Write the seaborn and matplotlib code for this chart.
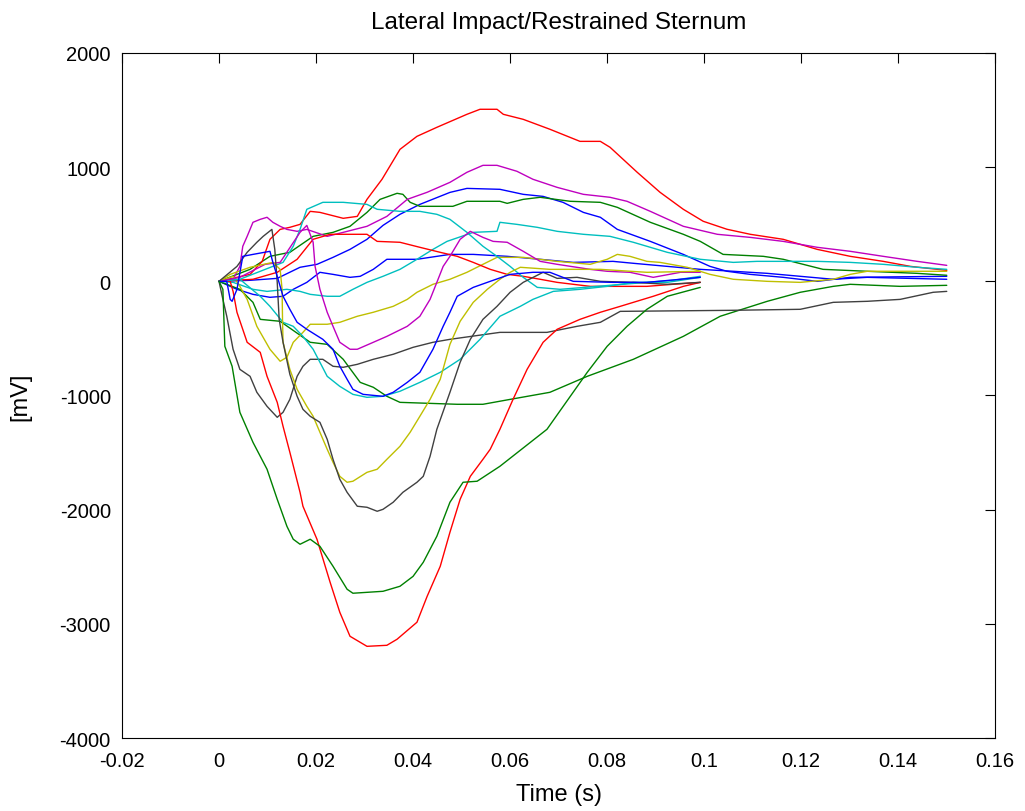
import numpy as np
import pandas as pd
import matplotlib
matplotlib.use("Agg")
import matplotlib.pyplot as plt
import seaborn as sns
from matplotlib.ticker import FuncFormatter, MultipleLocator

# ---------------- data (time in s, signal in mV) ----------------
# curves recorded to 0.15 s
t_red_top = [0, 0.0064, 0.0089, 0.0105, 0.0126, 0.0146, 0.0167, 0.0188, 0.0208, 0.0256, 0.0285, 0.0305, 0.0336, 0.0373, 0.0408, 0.0449, 0.0511, 0.0538, 0.0573, 0.0586, 0.0627, 0.0682, 0.0744, 0.0786, 0.0806, 0.0862, 0.0909, 0.0957, 0.0998, 0.1047, 0.1095, 0.1163, 0.1233, 0.1301, 0.1369, 0.1425, 0.15]
v_red_top = [0, 61, 175, 368, 455, 473, 499, 613, 604, 552, 569, 718, 894, 1156, 1270, 1349, 1463, 1507, 1507, 1463, 1419, 1332, 1226, 1226, 1174, 955, 780, 631, 526, 456, 412, 368, 280, 219, 175, 131, 96]

t_mag_top = [0, 0.0029, 0.0043, 0.0049, 0.0058, 0.0070, 0.0085, 0.0099, 0.0111, 0.0126, 0.0140, 0.0161, 0.0181, 0.0223, 0.0256, 0.0305, 0.0346, 0.0388, 0.0429, 0.0476, 0.0511, 0.0544, 0.0573, 0.0614, 0.0647, 0.0697, 0.0751, 0.0806, 0.0841, 0.0889, 0.0957, 0.1027, 0.1095, 0.1163, 0.1233, 0.1301, 0.1369, 0.1439, 0.15]
v_mag_top = [0, 18, 131, 307, 394, 517, 543, 561, 517, 482, 455, 438, 455, 394, 429, 482, 569, 718, 780, 867, 955, 1016, 1016, 964, 894, 823, 762, 736, 701, 613, 482, 412, 385, 350, 298, 263, 219, 175, 140]

t_green_up = [0, 0.0064, 0.0105, 0.0146, 0.0194, 0.0235, 0.0270, 0.0305, 0.0332, 0.0367, 0.0379, 0.0394, 0.0414, 0.0482, 0.0511, 0.0579, 0.0594, 0.0627, 0.0662, 0.0724, 0.0786, 0.0821, 0.0889, 0.0957, 0.0992, 0.1039, 0.1122, 0.1163, 0.1245, 0.1336, 0.1439, 0.15]
v_green_up = [0, 105, 219, 254, 394, 429, 482, 604, 718, 771, 762, 692, 657, 657, 701, 701, 683, 718, 736, 701, 692, 648, 517, 412, 350, 236, 219, 193, 105, 88, 70, 53]

t_green_low = [0, 0.0043, 0.0070, 0.0085, 0.0126, 0.0188, 0.0223, 0.0256, 0.0291, 0.0318, 0.0346, 0.0373, 0.0491, 0.0544, 0.0600, 0.0682, 0.0759, 0.0854, 0.0957, 0.1033, 0.1130, 0.1198, 0.1266, 0.1301, 0.1404, 0.15]
v_green_low = [0, -70, -184, -333, -350, -534, -552, -683, -885, -928, -1007, -1060, -1077, -1077, -1034, -972, -832, -683, -482, -306, -175, -96, -44, -26, -44, -35]

t_blue_top = [0, 0.0064, 0.0120, 0.0167, 0.0202, 0.0235, 0.0270, 0.0305, 0.0338, 0.0373, 0.0414, 0.0476, 0.0511, 0.0579, 0.0627, 0.0668, 0.0709, 0.0751, 0.0786, 0.0821, 0.0889, 0.0957, 0.1012, 0.1047, 0.1095, 0.1163, 0.1233, 0.1301, 0.15]
v_blue_top = [0, 9, 26, 123, 149, 210, 280, 368, 490, 587, 674, 779, 814, 806, 762, 744, 692, 604, 561, 455, 350, 236, 131, 88, 61, 35, 0, 35, 44]

t_blue_mid = [0, 0.0037, 0.0070, 0.0105, 0.0132, 0.0153, 0.0181, 0.0208, 0.0235, 0.0270, 0.0291, 0.0318, 0.0346, 0.0408, 0.0476, 0.0524, 0.0594, 0.0662, 0.0730, 0.0812, 0.0854, 0.0924, 0.0992, 0.1060, 0.1130, 0.1198, 0.1266, 0.1336, 0.15]
v_blue_mid = [0, -70, -114, -140, -131, -70, -9, 79, 61, 35, 44, 105, 193, 193, 236, 236, 219, 193, 166, 175, 158, 131, 105, 88, 70, 44, 18, 35, 18]

t_cyan_mid = [0, 0.0029, 0.0070, 0.0099, 0.0140, 0.0167, 0.0188, 0.0223, 0.0249, 0.0276, 0.0305, 0.0338, 0.0373, 0.0408, 0.0441, 0.0470, 0.0524, 0.0573, 0.0579, 0.0614, 0.0656, 0.0697, 0.0751, 0.0806, 0.0854, 0.0924, 0.0992, 0.1060, 0.1109, 0.1233, 0.1301, 0.1369, 0.1439, 0.15]
v_cyan_mid = [0, -9, -70, -88, -70, -88, -114, -131, -131, -70, -9, 44, 105, 193, 280, 350, 429, 438, 517, 499, 473, 438, 412, 394, 342, 254, 193, 166, 175, 175, 166, 149, 123, 105]

t_yel_low = [0, 0.0029, 0.0043, 0.0058, 0.0078, 0.0105, 0.0126, 0.0140, 0.0153, 0.0173, 0.0188, 0.0223, 0.0249, 0.0285, 0.0318, 0.0359, 0.0388, 0.0408, 0.0441, 0.0476, 0.0511, 0.0544, 0.0573, 0.0627, 0.0697, 0.0765, 0.0800, 0.0821, 0.0847, 0.0882, 0.0909, 0.0965, 0.1012, 0.1060, 0.1130, 0.1198, 0.1266, 0.1301, 0.1336, 0.15]
v_yel_low = [0, 44, -44, -158, -394, -595, -700, -665, -534, -447, -376, -376, -359, -306, -271, -219, -158, -96, -26, 18, 79, 149, 210, 210, 175, 149, 193, 236, 219, 175, 166, 123, 61, 18, 0, -9, 18, 61, 88, 88]

t_gray_low = [0, 0.0008, 0.0016, 0.0029, 0.0043, 0.0064, 0.0078, 0.0099, 0.0120, 0.0132, 0.0146, 0.0161, 0.0173, 0.0188, 0.0214, 0.0235, 0.0256, 0.0285, 0.0318, 0.0359, 0.0400, 0.0441, 0.0476, 0.0579, 0.0676, 0.0738, 0.0786, 0.0827, 0.1054, 0.1198, 0.1266, 0.1336, 0.1404, 0.1472, 0.15]
v_gray_low = [0, -158, -306, -595, -771, -832, -972, -1095, -1191, -1147, -1034, -832, -744, -683, -683, -744, -753, -727, -683, -639, -578, -534, -508, -447, -447, -394, -359, -263, -254, -245, -184, -175, -158, -96, -88]

# curves recorded to 0.10 s
t_red_mid = [0, 0.0070, 0.0120, 0.0161, 0.0194, 0.0229, 0.0305, 0.0326, 0.0373, 0.0414, 0.0456, 0.0491, 0.0524, 0.0559, 0.0594, 0.0627, 0.0662, 0.0697, 0.0765, 0.0812, 0.0882, 0.0936, 0.0992]
v_red_mid = [0, 18, 79, 193, 368, 412, 412, 350, 342, 298, 254, 219, 166, 105, 61, 44, 18, -9, -44, -44, -44, -26, -9]

t_red_low = [0, 0.0023, 0.0029, 0.0037, 0.0058, 0.0085, 0.0099, 0.0120, 0.0132, 0.0146, 0.0167, 0.0173, 0.0202, 0.0229, 0.0249, 0.0270, 0.0305, 0.0346, 0.0367, 0.0408, 0.0429, 0.0456, 0.0476, 0.0497, 0.0518, 0.0544, 0.0559, 0.0579, 0.0606, 0.0635, 0.0668, 0.0697, 0.0744, 0.0786, 0.0827, 0.0895, 0.0957, 0.0992]
v_red_low = [0, 0, -88, -271, -534, -622, -832, -1060, -1270, -1497, -1848, -1970, -2260, -2636, -2899, -3109, -3197, -3188, -3135, -2986, -2759, -2496, -2198, -1909, -1708, -1559, -1471, -1296, -1034, -771, -534, -420, -333, -271, -219, -131, -44, -9]

t_green_low2 = [0, 0.0008, 0.0012, 0.0027, 0.0043, 0.0070, 0.0099, 0.0120, 0.0140, 0.0153, 0.0167, 0.0188, 0.0208, 0.0235, 0.0264, 0.0276, 0.0338, 0.0373, 0.0400, 0.0421, 0.0449, 0.0476, 0.0503, 0.0532, 0.0579, 0.0676, 0.0759, 0.0800, 0.0841, 0.0882, 0.0924, 0.0992]
v_green_low2 = [0, -70, -569, -744, -1147, -1410, -1646, -1909, -2146, -2259, -2303, -2259, -2321, -2496, -2697, -2732, -2715, -2671, -2584, -2461, -2233, -1935, -1760, -1751, -1620, -1296, -797, -569, -394, -245, -131, -53]

t_mag_mid = [0, 0.0043, 0.0095, 0.0126, 0.0167, 0.0181, 0.0194, 0.0198, 0.0208, 0.0223, 0.0235, 0.0249, 0.0270, 0.0285, 0.0318, 0.0346, 0.0388, 0.0414, 0.0435, 0.0449, 0.0462, 0.0476, 0.0497, 0.0518, 0.0544, 0.0565, 0.0594, 0.0627, 0.0662, 0.0697, 0.0765, 0.0800, 0.0847, 0.0895, 0.0951, 0.0992]
v_mag_mid = [0, 35, 149, 166, 429, 490, 342, 131, -70, -271, -394, -534, -595, -595, -534, -482, -394, -306, -158, -9, 131, 219, 368, 438, 385, 350, 342, 263, 175, 149, 105, 88, 79, 35, 79, 79]

t_cyan_top = [0, 0.0043, 0.0132, 0.0153, 0.0167, 0.0181, 0.0214, 0.0256, 0.0305, 0.0326, 0.0373, 0.0414, 0.0449, 0.0476, 0.0511, 0.0544, 0.0573, 0.0600, 0.0627, 0.0656, 0.0703, 0.0779, 0.0882, 0.0936, 0.0992]
v_cyan_top = [0, 18, 166, 307, 455, 631, 692, 692, 674, 631, 613, 613, 587, 543, 429, 307, 219, 131, 35, -53, -70, -44, -9, 9, 44]

t_cyan_low = [0, 0.0043, 0.0085, 0.0105, 0.0132, 0.0153, 0.0173, 0.0194, 0.0208, 0.0223, 0.0249, 0.0276, 0.0305, 0.0338, 0.0373, 0.0414, 0.0456, 0.0497, 0.0538, 0.0579, 0.0621, 0.0647, 0.0689, 0.0744, 0.0800, 0.0854, 0.0924, 0.0992]
v_cyan_low = [0, 18, -131, -219, -359, -394, -482, -595, -709, -832, -920, -990, -1016, -1007, -963, -885, -797, -683, -508, -306, -219, -158, -88, -70, -44, -9, -9, 35]

t_blue_low = [0, 0.0016, 0.0023, 0.0027, 0.0037, 0.0049, 0.0070, 0.0105, 0.0111, 0.0120, 0.0132, 0.0146, 0.0161, 0.0181, 0.0214, 0.0235, 0.0249, 0.0264, 0.0276, 0.0297, 0.0338, 0.0359, 0.0388, 0.0414, 0.0441, 0.0462, 0.0476, 0.0491, 0.0524, 0.0559, 0.0600, 0.0647, 0.0682, 0.0730, 0.0812, 0.0882, 0.0951, 0.0992]
v_blue_low = [0, 0, -158, -175, -70, 219, 236, 263, 166, 44, -131, -245, -359, -420, -508, -595, -744, -858, -946, -990, -1007, -972, -885, -797, -595, -394, -271, -131, -53, 0, 61, 79, 79, 0, -9, -9, 18, 35]

t_yel_mid = [0, 0.0023, 0.0064, 0.0111, 0.0126, 0.0130, 0.0131, 0.0132, 0.0146, 0.0161, 0.0181, 0.0194, 0.0208, 0.0223, 0.0235, 0.0249, 0.0264, 0.0276, 0.0305, 0.0326, 0.0346, 0.0373, 0.0394, 0.0414, 0.0435, 0.0456, 0.0476, 0.0497, 0.0524, 0.0553, 0.0579, 0.0600, 0.0621, 0.0682, 0.0786, 0.0882, 0.0992]
v_yel_mid = [0, 61, 123, 166, 105, -70, -359, -534, -771, -946, -1095, -1182, -1322, -1471, -1585, -1708, -1760, -1751, -1673, -1646, -1559, -1445, -1322, -1182, -1034, -858, -552, -350, -184, -70, 18, 79, 123, 105, 105, 79, 88]

t_gray_mid = [0, 0.0037, 0.0058, 0.0078, 0.0091, 0.0109, 0.0115, 0.0120, 0.0124, 0.0132, 0.0146, 0.0161, 0.0173, 0.0188, 0.0208, 0.0223, 0.0235, 0.0249, 0.0264, 0.0285, 0.0305, 0.0326, 0.0338, 0.0359, 0.0379, 0.0408, 0.0421, 0.0435, 0.0449, 0.0476, 0.0497, 0.0518, 0.0544, 0.0573, 0.0600, 0.0627, 0.0668, 0.0697, 0.0738, 0.0786, 0.0854, 0.0924, 0.0992]
v_gray_mid = [0, 131, 254, 342, 394, 455, 280, -9, -333, -534, -814, -1007, -1121, -1182, -1235, -1384, -1559, -1734, -1848, -1970, -1979, -2014, -1997, -1935, -1848, -1760, -1708, -1533, -1296, -972, -709, -508, -333, -219, -96, -9, 79, 26, 35, 0, -9, -26, -9]

# MATLAB default line colours
c_blue = (0, 0, 1)
c_green = (0, 0.5, 0)
c_red = (1, 0, 0)
c_cyan = (0, 0.75, 0.75)
c_mag = (0.75, 0, 0.75)
c_yel = (0.75, 0.75, 0)
c_gray = (0.25, 0.25, 0.25)

curves = [
    ("blue_top", t_blue_top, v_blue_top, c_blue),
    ("blue_mid", t_blue_mid, v_blue_mid, c_blue),
    ("green_up", t_green_up, v_green_up, c_green),
    ("green_low", t_green_low, v_green_low, c_green),
    ("red_top", t_red_top, v_red_top, c_red),
    ("cyan_mid", t_cyan_mid, v_cyan_mid, c_cyan),
    ("mag_top", t_mag_top, v_mag_top, c_mag),
    ("yel_low", t_yel_low, v_yel_low, c_yel),
    ("gray_low", t_gray_low, v_gray_low, c_gray),
    ("red_mid", t_red_mid, v_red_mid, c_red),
    ("red_low", t_red_low, v_red_low, c_red),
    ("cyan_top", t_cyan_top, v_cyan_top, c_cyan),
    ("cyan_low", t_cyan_low, v_cyan_low, c_cyan),
    ("mag_mid", t_mag_mid, v_mag_mid, c_mag),
    ("yel_mid", t_yel_mid, v_yel_mid, c_yel),
    ("gray_mid", t_gray_mid, v_gray_mid, c_gray),
    ("blue_low", t_blue_low, v_blue_low, c_blue),
    ("green_low2", t_green_low2, v_green_low2, c_green),
]

frames = []
for name, t, v, _ in curves:
    frames.append(pd.DataFrame({"t": t, "mV": v, "curve": name}))
df = pd.concat(frames, ignore_index=True)
palette = {name: col for name, _, _, col in curves}

# ---------------- plot ----------------
sns.set_theme(style="white")
plt.rcParams["font.family"] = ["Liberation Sans", "DejaVu Sans"]
plt.rcParams["text.color"] = "black"
plt.rcParams["axes.labelcolor"] = "black"

fig = plt.figure(figsize=(10.25, 8.12), dpi=100)
ax = fig.add_axes([0.119, 0.0899, 0.852, 0.8436])

sns.lineplot(data=df, x="t", y="mV", hue="curve", units="curve", estimator=None,
             sort=False, palette=palette, hue_order=[c[0] for c in curves],
             linewidth=1.0, legend=False, ax=ax)

ax.set_xlim(-0.02, 0.16)
ax.set_ylim(-4000, 2000)
ax.xaxis.set_major_locator(MultipleLocator(0.02))
ax.yaxis.set_major_locator(MultipleLocator(1000))
ax.xaxis.set_major_formatter(FuncFormatter(lambda x, p: "%g" % round(x, 4)))
ax.yaxis.set_major_formatter(FuncFormatter(lambda y, p: "%g" % round(y)))

for s in ax.spines.values():
    s.set_visible(True)
    s.set_color("black")
    s.set_linewidth(0.8)
ax.tick_params(direction="in", length=7, width=0.8, colors="black",
               top=True, right=True, labelsize=14.5)
ax.tick_params(axis="x", pad=9)
ax.tick_params(axis="y", pad=8)
ax.set_xlabel("Time (s)", fontsize=17, labelpad=10, color="black")
ax.set_ylabel("[mV]", fontsize=17, labelpad=20, color="black")
ax.set_title("Lateral Impact/Restrained Sternum", fontsize=17.5, pad=18, color="black")

fig.savefig("out.png", dpi=100, facecolor="white")
